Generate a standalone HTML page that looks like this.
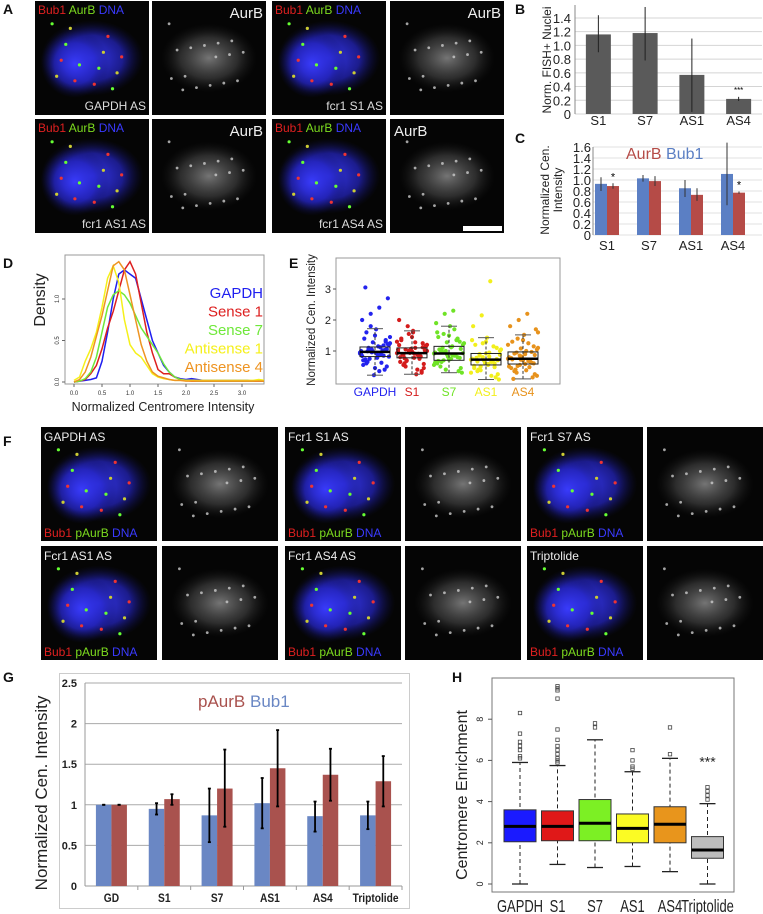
<!DOCTYPE html>
<html><head><meta charset="utf-8"><style>
html,body{margin:0;padding:0;background:#fff;}
svg{display:block;font-family:"Liberation Sans",Arial,sans-serif;}
</style></head><body>
<svg id="fig" width="763" height="914" viewBox="0 0 763 914" xmlns="http://www.w3.org/2000/svg">
<defs>
<radialGradient id="gBlue"><stop offset="0" stop-color="#3a3cff" stop-opacity="0.95"/><stop offset="0.6" stop-color="#2626c8" stop-opacity="0.7"/><stop offset="1" stop-color="#10105a" stop-opacity="0"/></radialGradient>
<radialGradient id="gGray"><stop offset="0" stop-color="#9a9a9a" stop-opacity="0.75"/><stop offset="0.6" stop-color="#555" stop-opacity="0.5"/><stop offset="1" stop-color="#222" stop-opacity="0"/></radialGradient>
</defs>
<g id="tiles"></g>
<g id="labels" font-weight="bold" font-size="14" fill="#111">
<text x="3" y="14">A</text>
<text x="515" y="14">B</text>
<text x="515" y="143">C</text>
<text x="3" y="268">D</text>
<text x="289" y="268">E</text>
<text x="3" y="446">F</text>
<text x="3" y="682">G</text>
<text x="452" y="682">H</text>
</g>
<g id="chartB"></g>
<g id="chartC"></g>
<g id="chartD"></g>
<g id="chartE"></g>
<g id="chartG"></g>
<g id="chartH"></g>
</svg>
<script>
// ---- Panel B data
const bCats=["S1","S7","AS1","AS4"];
const bVals=[1.16,1.18,0.57,0.22];
const bLo=[0.90,0.78,0.03,0.19];
const bHi=[1.44,1.56,1.10,0.25];
const bTicks=["0","0.2","0.4","0.6","0.8","1.0","1.2","1.4"];
// ---- Panel C data
const cCats=["S1","S7","AS1","AS4"];
const cBub1=[0.93,1.03,0.85,1.11];
const cBub1Lo=[0.80,0.97,0.69,0.54];
const cBub1Hi=[1.05,1.09,1.00,1.68];
const cAurB=[0.89,0.98,0.73,0.77];
const cAurBLo=[0.84,0.89,0.62,0.75];
const cAurBHi=[0.94,1.07,0.85,0.79];
const cTicks=["0","0.2","0.4","0.6","0.8","1.0","1.2","1.4","1.6"];
// ---- Panel D data (density at x = 0,0.1,...,3.4)
const dNames=["GAPDH","Sense 1","Sense 7","Antisense 1","Antisense 4"];
const dGapdh=[0,0.01,0.02,0.03,0.05,0.25,0.6,1.0,1.3,1.35,1.3,1.25,1.0,0.75,0.5,0.35,0.2,0.12,0.06,0.04,0.03,0.04,0.03,0.02,0.02,0.02,0.02,0.02,0.02,0.02,0.02,0.02,0.01,0.01,0.01];
const dS1=[0,0.01,0.03,0.1,0.2,0.4,0.65,0.85,1.1,1.35,1.45,1.3,0.95,0.6,0.35,0.15,0.1,0.1,0.06,0.03,0.02,0.01,0.01,0.01,0.01,0.01,0.01,0.01,0.01,0.01,0.01,0.01,0.01,0.01,0.01];
const dS7=[0,0.01,0.04,0.12,0.3,0.6,0.9,1.05,1.1,1.05,0.95,0.8,0.65,0.55,0.45,0.35,0.22,0.12,0.06,0.03,0.02,0.02,0.01,0.01,0.01,0.01,0.01,0.01,0.01,0.01,0.01,0.01,0.01,0.02,0.01];
const dAS1=[0.02,0.06,0.25,0.4,0.6,0.9,1.25,1.4,1.2,0.75,0.45,0.35,0.3,0.2,0.1,0.06,0.04,0.03,0.02,0.02,0.02,0.02,0.02,0.02,0.02,0.02,0.02,0.02,0.02,0.02,0.02,0.02,0.02,0.03,0.02];
const dAS4=[0,0.03,0.12,0.3,0.55,0.8,1.1,1.4,1.45,1.35,1.05,0.75,0.45,0.25,0.12,0.07,0.05,0.03,0.02,0.02,0.01,0.01,0.01,0.01,0.01,0.01,0.01,0.01,0.01,0.01,0.01,0.01,0.01,0.01,0.01];
const dXTicks=["0.0","0.5","1.0","1.5","2.0","2.5","3.0"];
const dYTicks=["0.0","0.5","1.0"];
// ---- Panel E data
const eCats=["GAPDH","S1","S7","AS1","AS4"];
const eMed=[0.97,0.93,0.92,0.72,0.75];
const eQ1=[0.82,0.78,0.70,0.55,0.58];
const eQ3=[1.13,1.10,1.15,0.92,0.97];
const eWLo=[0.22,0.25,0.30,0.08,0.10];
const eWHi=[1.72,1.65,1.80,1.43,1.52];
const ePtsGapdh=[0.95,1.1,0.8,1.3,0.7,1.05,0.9,1.2,0.6,1.5,0.85,1.0,0.75,1.15,0.5,1.4,0.98,0.88,1.25,0.65,1.7,0.4,2.0,2.2,2.4,2.7,3.05,0.22,1.02,0.92,1.08,0.78,1.35,0.55,0.96,1.12,0.82,1.6,0.45,1.18,0.9,1.0,0.86,1.06,0.7,1.28,0.62,1.45,0.99,0.93,1.03,0.84,1.8,0.35,1.22,0.73];
const ePtsS1=[0.93,1.05,0.78,1.25,0.65,1.0,0.88,1.15,0.55,1.45,0.82,0.97,0.7,1.1,0.45,1.35,0.95,0.85,1.2,0.6,1.65,0.35,2.0,1.8,0.25,1.02,0.9,1.07,0.75,1.3,0.5,0.92,1.12,0.8,1.55,0.4,1.17,0.87,0.98,0.83,1.04,0.68,1.28,0.58,1.4,0.94,0.91,1.0,0.77,1.6,0.3,1.19];
const ePtsS7=[0.92,1.1,0.75,1.3,0.6,1.0,0.85,1.2,0.5,1.5,0.8,0.95,0.7,1.15,0.45,1.45,0.9,0.88,1.25,0.65,1.8,0.35,1.9,2.2,2.3,0.3,1.05,0.82,1.35,0.55,0.97,1.12,0.78,1.6,0.4,1.7,0.93,1.02,0.72,1.4,0.62,1.55,0.87,1.07,0.68,1.28];
const ePtsAS1=[0.72,0.9,0.55,1.1,0.45,0.8,0.65,1.0,0.35,1.3,0.6,0.75,0.5,0.95,0.25,1.2,0.7,0.68,1.05,0.4,1.43,0.15,1.8,2.15,3.25,0.08,0.78,0.62,1.15,0.3,0.85,0.58,0.74,0.52,1.25,0.2,0.88,0.66,0.92,0.48,1.35,0.38,0.82,0.7];
const ePtsAS4=[0.75,0.95,0.58,1.15,0.45,0.85,0.68,1.05,0.35,1.35,0.62,0.8,0.52,1.0,0.25,1.3,0.72,0.7,1.1,0.4,1.52,0.15,1.8,2.0,2.2,1.7,0.1,0.82,0.65,1.2,0.3,0.9,0.6,0.77,0.55,1.25,0.2,0.92,0.7,0.97,0.5,1.4,0.38,0.87,0.73,1.08,0.48,1.6];
const eYTicks=["1","2","3"];
// ---- Panel G data
const gCats=["GD","S1","S7","AS1","AS4","Triptolide"];
const gBub1=[1.0,0.95,0.87,1.02,0.86,0.87];
const gBub1Lo=[1.0,0.88,0.54,0.71,0.67,0.70];
const gBub1Hi=[1.0,1.02,1.20,1.33,1.04,1.04];
const gPAurB=[1.0,1.07,1.20,1.45,1.37,1.29];
const gPAurBLo=[1.0,1.00,0.73,0.98,1.05,0.98];
const gPAurBHi=[1.0,1.13,1.68,1.92,1.69,1.60];
const gTicks=["0","0.5","1","1.5","2","2.5"];
// ---- Panel H data
const hCats=["GAPDH","S1","S7","AS1","AS4","Triptolide"];
const hMed=[2.8,2.8,2.95,2.7,2.9,1.65];
const hQ1=[2.05,2.1,2.1,2.0,2.0,1.25];
const hQ3=[3.6,3.55,4.1,3.4,3.75,2.3];
const hWLo=[0,0.95,0.8,0.85,0.6,0];
const hWHi=[5.9,5.75,7.0,5.45,6.1,3.9];
const hOutGapdh=[8.3,7.3,6.9,6.7,6.5,6.2,6.1];
const hOutS1=[9.6,9.5,9.4,9.0,7.5,7.0,6.7,6.5,6.3,6.1,6.0,5.9];
const hOutS7=[7.8,7.6];
const hOutAS1=[6.5,6.0,5.7,5.6];
const hOutAS4=[7.6,6.3];
const hOutTrip=[4.7,4.5,4.3,4.1];
const hTicks=["0","2","4","6","8"];

const NS="http://www.w3.org/2000/svg";
function mk(parent,tag,attrs,text){const e=document.createElementNS(NS,tag);for(const k in attrs)e.setAttribute(k,attrs[k]);if(text!==undefined)e.textContent=text;parent.appendChild(e);return e;}

// ---------- microscopy tiles
const T=document.getElementById('tiles');
function tile(x,y,w,h,composite,name){
  const g=mk(T,'g',{});
  
  
  mk(g,'rect',{x:x,y:y,width:w,height:h,fill:'#050505'});
  if(composite){
    mk(g,'ellipse',{cx:x+w*0.5,cy:y+h*0.5,rx:w*0.45,ry:h*0.33,fill:'url(#gBlue)'});
    mk(g,'ellipse',{cx:x+w*0.35,cy:y+h*0.55,rx:w*0.3,ry:h*0.3,fill:'url(#gBlue)'});
    for(let i=0;i<14;i++){
      const px=x+w*(0.15+((i*37)%70)/100), py=y+h*(0.2+((i*53)%60)/100);
      mk(g,'circle',{cx:px,cy:py,r:1.6,fill:i%3==0?'#6f3':(i%3==1?'#e33':'#cc3')});
    }
  } else {
    mk(g,'ellipse',{cx:x+w*0.5,cy:y+h*0.5,rx:w*0.42,ry:h*0.3,fill:'url(#gGray)'});
    for(let i=0;i<16;i++){
      const px=x+w*(0.15+((i*41)%70)/100), py=y+h*(0.2+((i*29)%60)/100);
      mk(g,'circle',{cx:px,cy:py,r:1.4,fill:'#ccc','fill-opacity':0.8});
    }
  }
  return g;
}
function chanLabel(x,y,parts,size){
  const t=mk(T,'text',{x:x,y:y,'font-size':size});
  
  
  parts.forEach(p=>{mk(t,'tspan',{fill:p[1]},p[0]);});
}
const Ax=[35,152,272,390], Aw=114, Ay=[1,119], Ah=114;
const aNames=["GAPDH AS","fcr1 S1 AS","fcr1 AS1 AS","fcr1 AS4 AS"];
for(let r=0;r<2;r++)for(let c=0;c<4;c++){
  const comp=c%2==0;
  tile(Ax[c],Ay[r],Aw,Ah,comp,comp?'merge-image':'aurb-image');
  if(comp){
    chanLabel(Ax[c]+3,Ay[r]+13,[["Bub1 ","#e02020"],["AurB ","#7ddc1f"],["DNA","#3a3aff"]],12);
    const idx=r*2+c/2;
    const t=mk(T,'text',{x:Ax[c]+Aw-3,y:Ay[r]+Ah-5,'font-size':12,fill:'#ddd','text-anchor':'end'},aNames[idx]);
    
    
  } else {
    const rightAlign=!(r==1&&c==3);
    const t=mk(T,'text',{x:rightAlign?Ax[c]+Aw-3:Ax[c]+4,y:Ay[r]+17,'font-size':15,fill:'#eee','text-anchor':rightAlign?'end':'start'},'AurB');
    
    
  }
}
const sb=mk(T,'rect',{x:463,y:226,width:39,height:5,fill:'#fff'});



const Fx=[41,162,285,405,527,647], Fw=116, Fy=[427,546], Fh=114;
const fNames=["GAPDH AS","Fcr1 S1 AS","Fcr1 S7 AS","Fcr1 AS1 AS","Fcr1 AS4 AS","Triptolide"];
for(let r=0;r<2;r++)for(let c=0;c<6;c++){
  const comp=c%2==0;
  tile(Fx[c],Fy[r],Fw,Fh,comp,comp?'merge-image':'pAurB-image');
  if(comp){
    const idx=r*3+c/2;
    const t=mk(T,'text',{x:Fx[c]+3,y:Fy[r]+14,'font-size':12,fill:'#eee'},fNames[idx]);
    
    
    chanLabel(Fx[c]+3,Fy[r]+Fh-4,[["Bub1 ","#e02020"],["pAurB ","#7ddc1f"],["DNA","#3a3aff"]],12);
  }
}

// ---------- Panel B
(function(){
  const G=document.getElementById('chartB');
  const y=v=>114-v*68.6, x0=575, x1=762, bw=(x1-x0)/bCats.length;
  const cx=i=>x0+bw*(i+0.5);
  bTicks.forEach(t=>{const v=parseFloat(t);
    mk(G,'line',{x1:x0,x2:x1,y1:y(v),y2:y(v),stroke:'#d4d4d4','stroke-width':1});
    const l=mk(G,'text',{x:x0-4,y:y(v)+5,'font-size':13,'text-anchor':'end',fill:'#222'},t);
    
    
  });
  mk(G,'line',{x1:x0,x2:x0,y1:5,y2:114,stroke:'#888'});
  bCats.forEach((c,i)=>{
    const b=mk(G,'rect',{x:cx(i)-12.5,y:y(bVals[i]),width:25,height:y(0)-y(bVals[i]),fill:'#5a5a5a'});
    
    
    const e=mk(G,'line',{x1:cx(i),x2:cx(i),y1:y(bLo[i]),y2:y(bHi[i]),stroke:'#222','stroke-width':1});
    
    
    const l=mk(G,'text',{x:cx(i),y:125,'font-size':13,'text-anchor':'middle',fill:'#222'},c);
    
    
  });
  const s=mk(G,'text',{x:cx(3),y:y(bHi[3])-4,'font-size':8,'text-anchor':'middle'},'***');
  
  
  const yl=mk(G,'text',{transform:'translate(551,60) rotate(-90)','font-size':12,'text-anchor':'middle',fill:'#222'},'Norm. FISH+ Nuclei');
  
  
})();

// ---------- Panel C
(function(){
  const G=document.getElementById('chartC');
  const y=v=>235-v*55, x0=593, x1=762;
  const cx=i=>607+42*i;
  cTicks.forEach(t=>{const v=parseFloat(t);
    mk(G,'line',{x1:x0,x2:x1,y1:y(v),y2:y(v),stroke:'#e2e2e2'});
    const l=mk(G,'text',{x:x0-2,y:y(v)+5,'font-size':13,'text-anchor':'end',fill:'#222'},t);
    
    
  });
  mk(G,'line',{x1:x0,x2:x0,y1:y(1.6),y2:y(0),stroke:'#888'});
  cCats.forEach((c,i)=>{
    const b1=mk(G,'rect',{x:cx(i)-12,y:y(cBub1[i]),width:12,height:y(0)-y(cBub1[i]),fill:'#5b7fc4'});
    
    
    const b2=mk(G,'rect',{x:cx(i),y:y(cAurB[i]),width:12,height:y(0)-y(cAurB[i]),fill:'#b54b47'});
    
    
    mk(G,'line',{x1:cx(i)-6,x2:cx(i)-6,y1:y(cBub1Lo[i]),y2:y(cBub1Hi[i]),stroke:'#333'});
    mk(G,'line',{x1:cx(i)+6,x2:cx(i)+6,y1:y(cAurBLo[i]),y2:y(cAurBHi[i]),stroke:'#333'});
    const l=mk(G,'text',{x:cx(i),y:250,'font-size':13,'text-anchor':'middle',fill:'#222'},c);
    
    
  });
  [0,3].forEach(i=>{const s=mk(G,'text',{x:cx(i)+6,y:y(cAurBHi[i])-3,'font-size':11,'text-anchor':'middle'},'*');
    
    });
  const lg=mk(G,'text',{x:626,y:159,'font-size':16});
  
  
  mk(lg,'tspan',{fill:'#b54b47'},'AurB ');mk(lg,'tspan',{fill:'#5b7fc4'},'Bub1');
  const yl=mk(G,'text',{transform:'translate(549,190) rotate(-90)','font-size':12,'text-anchor':'middle',fill:'#222'});
  
  
  mk(yl,'tspan',{x:0,dy:0},'Normalized Cen.');mk(yl,'tspan',{x:0,dy:13},'Intensity');
})();

// ---------- Panel D
(function(){
  const G=document.getElementById('chartD');
  const x=v=>74+v*56, y=v=>382-v*83;
  const fr=mk(G,'rect',{x:65,y:255,width:199,height:129,fill:'none',stroke:'#999'});
  
  
  const series=[[dGapdh,'#1f1ff0'],[dS1,'#dd1f1f'],[dS7,'#6fe83a'],[dAS1,'#f5f01a'],[dAS4,'#ee9422']];
  const clip=mk(G,'clipPath',{id:'clipD'});mk(clip,'rect',{x:65,y:255,width:199,height:129});
  series.forEach((s,k)=>{
    const pts=s[0].map((v,i)=>x(i*0.1)+','+y(v)).join(' ');
    const p=mk(G,'polyline',{points:pts,fill:'none',stroke:s[1],'stroke-width':1.5,'clip-path':'url(#clipD)'});
    
    
    const l=mk(G,'text',{x:263,y:298+k*18.5,'font-size':15,'text-anchor':'end',fill:s[1]},dNames[k]);
    
    
  });
  dXTicks.forEach(t=>{const v=parseFloat(t);
    mk(G,'line',{x1:x(v),x2:x(v),y1:384,y2:387,stroke:'#666'});
    const l=mk(G,'text',{x:x(v),y:395,'font-size':6,'text-anchor':'middle',fill:'#333'},t);
    
    
  });
  dYTicks.forEach(t=>{const v=parseFloat(t);
    mk(G,'line',{x1:62,x2:65,y1:y(v),y2:y(v),stroke:'#666'});
    const l=mk(G,'text',{transform:'translate(59,'+y(v)+') rotate(-90)','font-size':6,'text-anchor':'middle',fill:'#333'},t);
    
    
  });
  const xl=mk(G,'text',{x:163,y:411,'font-size':12.5,'text-anchor':'middle',fill:'#222'},'Normalized Centromere Intensity');
  
  
  const yl=mk(G,'text',{transform:'translate(45,300) rotate(-90)','font-size':16,'text-anchor':'middle',fill:'#222'},'Density');
  
  
})();

// ---------- Panel E
(function(){
  const G=document.getElementById('chartE');
  const y=v=>382-v*31, cx=i=>375+37*i, bw=30;
  const cols=['#2323ee','#d41c1c','#6fe326','#f2ef1c','#e7921c'];
  const pts=[ePtsGapdh,ePtsS1,ePtsS7,ePtsAS1,ePtsAS4];
  const fr=mk(G,'rect',{x:336,y:258,width:224,height:126,fill:'none',stroke:'#999'});
  
  
  eCats.forEach((c,i)=>{
    pts[i].forEach((v,j)=>{
      const jx=(((j*37)%29)/28-0.5)*bw;
      const p=mk(G,'circle',{cx:cx(i)+jx,cy:y(v),r:2.1,fill:cols[i]});
      
      
    });
    mk(G,'line',{x1:cx(i),x2:cx(i),y1:y(eWLo[i]),y2:y(eWHi[i]),stroke:'#333','stroke-dasharray':'3,2'});
    mk(G,'line',{x1:cx(i)-8,x2:cx(i)+8,y1:y(eWLo[i]),y2:y(eWLo[i]),stroke:'#555'});
    mk(G,'line',{x1:cx(i)-8,x2:cx(i)+8,y1:y(eWHi[i]),y2:y(eWHi[i]),stroke:'#555'});
    const b=mk(G,'rect',{x:cx(i)-bw/2,y:y(eQ3[i]),width:bw,height:y(eQ1[i])-y(eQ3[i]),fill:'none',stroke:'#222','stroke-width':1});
    
    
    mk(G,'line',{x1:cx(i)-bw/2,x2:cx(i)+bw/2,y1:y(eMed[i]),y2:y(eMed[i]),stroke:'#000','stroke-width':2.5});
    const l=mk(G,'text',{x:cx(i),y:396,'font-size':12,'text-anchor':'middle',fill:cols[i]},c);
    
    
  });
  eYTicks.forEach(t=>{const v=parseFloat(t);
    mk(G,'line',{x1:333,x2:336,y1:y(v),y2:y(v),stroke:'#555'});
    const l=mk(G,'text',{x:331,y:y(v)+4,'font-size':11,'text-anchor':'end',fill:'#222'},t);
    
    
  });
  const yl=mk(G,'text',{transform:'translate(315,320) rotate(-90)','font-size':11.5,'text-anchor':'middle',fill:'#222'},'Normalized Cen. Intensity');
  
  
})();

// ---------- Panel G
(function(){
  const G=document.getElementById('chartG');
  const y=v=>886-v*81.2, x0=85, x1=402, bw=(x1-x0)/gCats.length;
  const cx=i=>x0+bw*(i+0.5);
  const fr=mk(G,'rect',{x:59.5,y:673.5,width:350,height:235,fill:'none',stroke:'#ccc'});
  
  
  gTicks.forEach(t=>{const v=parseFloat(t);
    mk(G,'line',{x1:x0,x2:x1,y1:y(v),y2:y(v),stroke:v==0?'#999':'#aaa'});
    const l=mk(G,'text',{x:x0-8,y:y(v)+4,'font-size':11,'font-weight':'bold','text-anchor':'end',fill:'#222'},t);
    
    
  });
  mk(G,'line',{x1:x0,x2:x0,y1:y(2.5),y2:y(0),stroke:'#999'});
  gCats.forEach((c,i)=>{
    mk(G,'line',{x1:x0+bw*(i+1),x2:x0+bw*(i+1),y1:y(0),y2:y(0)+4,stroke:'#999'});
    const b1=mk(G,'rect',{x:cx(i)-15.5,y:y(gBub1[i]),width:15.5,height:y(0)-y(gBub1[i]),fill:'#6a87c4'});
    
    
    const b2=mk(G,'rect',{x:cx(i),y:y(gPAurB[i]),width:15.5,height:y(0)-y(gPAurB[i]),fill:'#a9524e'});
    
    
    [[cx(i)-7.7,gBub1Lo[i],gBub1Hi[i]],[cx(i)+7.7,gPAurBLo[i],gPAurBHi[i]]].forEach(e=>{
      const eb=mk(G,'g',{stroke:'#000','stroke-width':1.8});
      
      
      mk(eb,'line',{x1:e[0],x2:e[0],y1:y(e[1]),y2:y(e[2])});
      mk(eb,'line',{x1:e[0]-1.5,x2:e[0]+1.5,y1:y(e[1]),y2:y(e[1])});
      mk(eb,'line',{x1:e[0]-1.5,x2:e[0]+1.5,y1:y(e[2]),y2:y(e[2])});
    });
    const lg0=mk(G,'g',{transform:'translate('+cx(i)+',902) scale(0.85,1)'});
    const l=mk(lg0,'text',{x:0,y:0,'font-size':12,'font-weight':'bold','text-anchor':'middle',fill:'#222'},c);
    
    
  });
  const lg=mk(G,'text',{x:198,y:707,'font-size':17});
  
  
  mk(lg,'tspan',{fill:'#a9524e'},'pAurB ');mk(lg,'tspan',{fill:'#6a87c4'},'Bub1');
  const yl=mk(G,'text',{transform:'translate(47,793) rotate(-90)','font-size':17,'text-anchor':'middle',fill:'#222'},'Normalized Cen. Intensity');
  
  
})();

// ---------- Panel H
(function(){
  const G=document.getElementById('chartH');
  const y=v=>884-v*20.6, cx=i=>520+37.5*i, bw=32;
  const cols=['#1a1aff','#e01818','#7cf024','#fbfb24','#e8951c','#bdbdbd'];
  const outs=[hOutGapdh,hOutS1,hOutS7,hOutAS1,hOutAS4,hOutTrip];
  const fr=mk(G,'rect',{x:492,y:678,width:242,height:214,fill:'none',stroke:'#777'});
  
  
  hCats.forEach((c,i)=>{
    mk(G,'line',{x1:cx(i),x2:cx(i),y1:y(hWLo[i]),y2:y(hWHi[i]),stroke:'#222','stroke-dasharray':'4,3'});
    mk(G,'line',{x1:cx(i)-8,x2:cx(i)+8,y1:y(hWLo[i]),y2:y(hWLo[i]),stroke:'#222','stroke-width':1.3});
    mk(G,'line',{x1:cx(i)-8,x2:cx(i)+8,y1:y(hWHi[i]),y2:y(hWHi[i]),stroke:'#222','stroke-width':1.3});
    const b=mk(G,'rect',{x:cx(i)-bw/2,y:y(hQ3[i]),width:bw,height:y(hQ1[i])-y(hQ3[i]),fill:cols[i],stroke:'#333','stroke-width':1});
    
    
    mk(G,'line',{x1:cx(i)-bw/2,x2:cx(i)+bw/2,y1:y(hMed[i]),y2:y(hMed[i]),stroke:'#000','stroke-width':3});
    outs[i].forEach(v=>{
      const o=mk(G,'rect',{x:cx(i)-1.7,y:y(v)-1.7,width:3.4,height:3.4,fill:'none',stroke:'#444','stroke-width':0.8});
      
      
    });
    const lg0=mk(G,'g',{transform:'translate('+cx(i)+',912) scale(0.72,1)'});
    const l=mk(lg0,'text',{x:0,y:0,'font-size':18,'text-anchor':'middle',fill:'#222'},c);
    
    
  });
  const s=mk(G,'text',{x:cx(5),y:y(6.0)+6,'font-size':14,'text-anchor':'middle',fill:'#222'},'***');
  
  
  hTicks.forEach(t=>{const v=parseFloat(t);
    mk(G,'line',{x1:488,x2:492,y1:y(v),y2:y(v),stroke:'#555'});
    const l=mk(G,'text',{transform:'translate(483,'+y(v)+') rotate(-90)','font-size':9,'text-anchor':'middle',fill:'#222'},t);
    
    
  });
  const yl=mk(G,'text',{transform:'translate(467,795) rotate(-90)','font-size':16,'text-anchor':'middle',fill:'#222'},'Centromere Enrichment');
  
  
})();
</script>
</body></html>
